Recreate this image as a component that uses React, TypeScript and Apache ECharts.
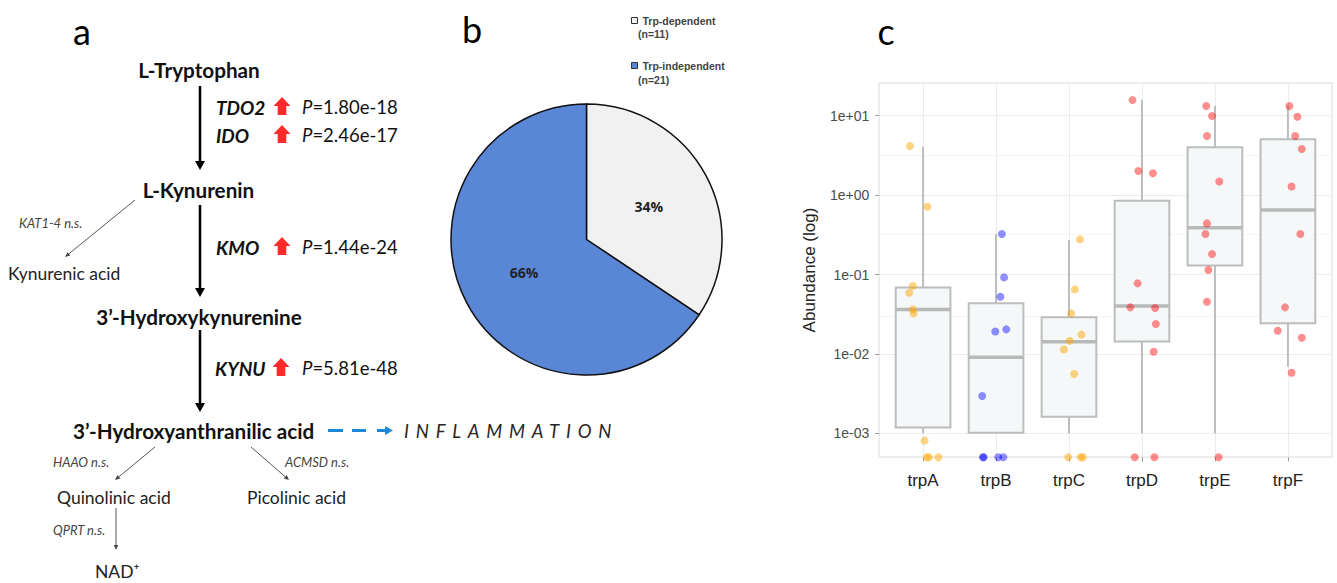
import React, { useEffect, useRef } from "react";
import * as echarts from "echarts";

// ---------- Panel c data (abundance, log scale) ----------
const genes = ["trpA", "trpB", "trpC", "trpD", "trpE", "trpF"];
const geneColors = [
  "rgba(255,165,0,0.62)",
  "rgba(0,0,255,0.55)",
  "rgba(255,165,0,0.62)",
  "rgba(255,0,0,0.55)",
  "rgba(255,0,0,0.55)",
  "rgba(255,0,0,0.55)",
];
const whiskerLow = [0.001, 0.001, 0.001, 0.001, 0.001, 0.0069];
const boxQ1 = [0.00119, 0.00102, 0.00162, 0.01438, 0.13, 0.0243];
const boxMedian = [0.0364, 0.00906, 0.01426, 0.0401, 0.389, 0.648];
const boxQ3 = [0.0689, 0.0434, 0.0289, 0.851, 3.99, 5.04];
const whiskerHigh = [4.07, 0.324, 0.272, 15.7, 13.2, 13.2];

const trpAValues = [4.15, 0.714, 0.0716, 0.059, 0.0364, 0.0324, 0.00081, 0, 0, 0];
const trpAJitter = [-0.18, 0.06, -0.14, -0.19, -0.14, -0.13, 0.02, 0.05, 0.08, 0.21];
const trpBValues = [0.324, 0.092, 0.0526, 0.0192, 0.0204, 0.00295, 0, 0, 0, 0];
const trpBJitter = [0.08, 0.11, 0.06, -0.01, 0.14, -0.19, -0.18, -0.17, 0.03, 0.1];
const trpCValues = [0.277, 0.065, 0.0324, 0.0175, 0.0147, 0.0114, 0.00558, 0, 0, 0];
const trpCJitter = [0.15, 0.08, 0.03, 0.17, 0.01, -0.07, 0.07, -0.01, 0.16, 0.19];
const trpDValues = [15.7, 2.01, 1.88, 0.0774, 0.0386, 0.0379, 0.0238, 0.01066, 0, 0];
const trpDJitter = [-0.13, -0.05, 0.15, -0.06, -0.16, 0.18, 0.19, 0.16, -0.1, 0.17];
const trpEValues = [13.2, 9.9, 5.55, 1.48, 0.44, 0.324, 0.181, 0.114, 0.0455, 0];
const trpEJitter = [-0.12, -0.04, -0.11, 0.06, -0.11, -0.13, -0.04, -0.09, -0.11, 0.05];
const trpFValues = [13.2, 9.7, 5.55, 3.8, 1.28, 0.324, 0.0386, 0.0196, 0.016, 0.0058];
const trpFJitter = [0.02, 0.13, 0.1, 0.19, 0.05, 0.17, -0.04, -0.14, 0.19, 0.05];

const pointValues = [trpAValues, trpBValues, trpCValues, trpDValues, trpEValues, trpFValues];
const pointJitter = [trpAJitter, trpBJitter, trpCJitter, trpDJitter, trpEJitter, trpFJitter];

const Y_MIN = 0.0005; // zero abundances sit on the panel floor
const Y_MAX = 26;
const minorGrid = [0.00316, 0.0316, 0.316, 3.16];

// ---------- Panel b data ----------
const pieNames = ["Trp-dependent", "Trp-independent"];
const pieCounts = [11, 21];
const pieColors = ["#F1F1F1", "#5A86D6"];

// ---------- Panel a content ----------
const metabolites = [
  "L-Tryptophan",
  "L-Kynurenin",
  "3\u2019-Hydroxykynurenine",
  "3\u2019-Hydroxyanthranilic acid",
];
const enzymes = ["TDO2", "IDO", "KMO", "KYNU"];
const enzymePValues = ["1.80e-18", "2.46e-17", "1.44e-24", "5.81e-48"];
const sideProducts = ["Kynurenic acid", "Quinolinic acid", "Picolinic acid", "NAD\u207A"];
const sideEnzymes = ["KAT1-4 n.s.", "HAAO n.s.", "ACMSD n.s.", "QPRT n.s."];

const FONT = "Lato";
const META_SIZE = 20.7;
const SMALL = 13;

function txt(text: string, x: number, y: number, o: any = {}) {
  return {
    type: "text",
    x,
    y,
    silent: true,
    style: {
      text,
      fontFamily: o.family ?? FONT,
      fontSize: o.size ?? 18.5,
      fontWeight: o.weight ?? "normal",
      fontStyle: o.fstyle ?? "normal",
      fill: o.color ?? "#111",
      align: o.align ?? "left",
      verticalAlign: "middle",
      rich: o.rich,
    },
  };
}

function pText(p: string, x: number, y: number) {
  return txt("{i|P}=" + p, x, y, {
    rich: { i: { fontStyle: "italic", fontFamily: FONT, fontSize: 18.5, fill: "#111" } },
  });
}

function downArrow(x: number, y1: number, y2: number) {
  return [
    { type: "line", silent: true, shape: { x1: x, y1, x2: x, y2: y2 - 6 }, style: { stroke: "#000", lineWidth: 2.5 } },
    { type: "polygon", silent: true, shape: { points: [[x - 5, y2 - 9], [x + 5, y2 - 9], [x, y2]] }, style: { fill: "#000" } },
  ];
}

function thinArrow(x1: number, y1: number, x2: number, y2: number) {
  const dx = x2 - x1, dy = y2 - y1, L = Math.hypot(dx, dy);
  const ux = dx / L, uy = dy / L;
  const hl = 5, hw = 2.2;
  const bx = x2 - ux * hl, by = y2 - uy * hl;
  return [
    { type: "line", silent: true, shape: { x1, y1, x2: bx, y2: by }, style: { stroke: "#444", lineWidth: 0.9 } },
    {
      type: "polygon",
      silent: true,
      shape: { points: [[x2, y2], [bx - uy * hw, by + ux * hw], [bx + uy * hw, by - ux * hw]] },
      style: { fill: "#444" },
    },
  ];
}

function upArrow(cx: number, cy: number) {
  return {
    type: "polygon",
    silent: true,
    shape: {
      points: [
        [cx, cy - 10], [cx + 8.5, cy - 1], [cx + 4.3, cy - 1], [cx + 4.3, cy + 8],
        [cx - 4.3, cy + 8], [cx - 4.3, cy - 1], [cx - 8.5, cy - 1],
      ],
    },
    style: { fill: "#FF2B2B" },
  };
}

function buildPathway() {
  const els: any[] = [];
  // panel letters
  els.push(txt("a", 82, 31, { size: 36, align: "center", color: "#000" }));
  els.push(txt("b", 472, 29, { size: 36, align: "center", color: "#000" }));
  els.push(txt("c", 886, 31, { size: 36, align: "center", color: "#000" }));

  // main chain
  els.push(txt(metabolites[0], 199, 70, { weight: "bold", size: META_SIZE, align: "center" }));
  els.push(...downArrow(200, 86, 170));
  els.push(txt(enzymes[0], 216, 107, { weight: "bold", fstyle: "italic", size: 19 }));
  els.push(upArrow(282, 107));
  els.push(pText(enzymePValues[0], 302, 107));
  els.push(txt(enzymes[1], 216, 135, { weight: "bold", fstyle: "italic", size: 19 }));
  els.push(upArrow(282, 135));
  els.push(pText(enzymePValues[1], 302, 135));

  els.push(txt(metabolites[1], 198.5, 190, { weight: "bold", size: META_SIZE, align: "center" }));
  els.push(...downArrow(200, 205, 297));
  els.push(...thinArrow(135, 200, 65, 257));
  els.push(txt(sideEnzymes[0], 19, 223, { fstyle: "italic", size: SMALL, color: "#444" }));
  els.push(txt(sideProducts[0], 8, 273, { size: 17.5, color: "#222" }));
  els.push(txt(enzymes[2], 216, 247, { weight: "bold", fstyle: "italic", size: 19 }));
  els.push(upArrow(282, 247));
  els.push(pText(enzymePValues[2], 302, 247));

  els.push(txt(metabolites[2], 199, 317, { weight: "bold", size: META_SIZE, align: "center" }));
  els.push(...downArrow(200, 330, 412));
  els.push(txt(enzymes[3], 215, 368, { weight: "bold", fstyle: "italic", size: 19 }));
  els.push(upArrow(281, 368));
  els.push(pText(enzymePValues[3], 302, 368));

  els.push(txt(metabolites[3], 73, 430.5, { weight: "bold", size: META_SIZE }));
  // blue dashed arrow to inflammation
  const blue = "#1E88D6";
  [[328, 343], [352, 366], [377, 386]].forEach(([a, b]) =>
    els.push({ type: "line", silent: true, shape: { x1: a, y1: 430.5, x2: b, y2: 430.5 }, style: { stroke: blue, lineWidth: 3 } })
  );
  els.push({ type: "polygon", silent: true, shape: { points: [[385, 426], [393, 430.5], [385, 435]] }, style: { fill: blue } });
  els.push(txt("INFLAMMATION", 404, 430.5, { fstyle: "italic", size: 18.5, color: "#262626", family: "Lato, InflamSpaced" }));

  els.push(...thinArrow(155, 447, 115, 480));
  els.push(txt(sideEnzymes[1], 53, 461.5, { fstyle: "italic", size: SMALL, color: "#444" }));
  els.push(...thinArrow(251, 447, 289, 480));
  els.push(txt(sideEnzymes[2], 285, 461.5, { fstyle: "italic", size: SMALL, color: "#444" }));
  els.push(txt(sideProducts[1], 57, 497.5, { size: 17.5, color: "#222" }));
  els.push(txt(sideProducts[2], 247, 497.5, { size: 17.5, color: "#222" }));
  els.push(...thinArrow(116, 508, 116, 550));
  els.push(txt(sideEnzymes[3], 53, 530, { fstyle: "italic", size: SMALL, color: "#444" }));
  els.push(txt(sideProducts[3], 95, 571, { size: 17.5, color: "#222" }));

  // legend sub-lines for panel b
  pieCounts.forEach((n, i) =>
    els.push(txt("(n=" + n + ")", 638, i === 0 ? 34 : 79.5, { family: "Liberation Sans", size: 10.5, weight: "bold", color: "#444" }))
  );
  return els;
}

function fmtLog(v: number) {
  const l = Math.log10(v);
  const e = Math.round(l);
  if (Math.abs(l - e) > 1e-6) return "";
  return "1e" + (e >= 0 ? "+" : "-") + String(Math.abs(e)).padStart(2, "0");
}

export default function App() {
  const ref = useRef<HTMLDivElement>(null);
  useEffect(() => {
    if (!ref.current) return;
    const chart = echarts.init(ref.current, undefined, { renderer: "svg" });
    const boxData = genes.map((g, k) => [k + 1, whiskerLow[k], boxQ1[k], boxMedian[k], boxQ3[k], whiskerHigh[k]]);
    const grey = "#BDBDBD";
    const option: any = {
      animation: false,
      textStyle: { fontFamily: "Liberation Sans" },
      grid: {
        left: 879.3,
        top: 82.7,
        width: 452.4,
        height: 374.6,
        show: true,
        borderColor: "#A9A9A9",
        borderWidth: 1,
        backgroundColor: "#fff",
      },
      xAxis: {
        type: "value",
        min: 0.4,
        max: 6.6,
        splitNumber: 6,
        axisLine: { show: false },
        axisTick: { show: true, length: 4, lineStyle: { color: "#999" } },
        axisLabel: {
          fontSize: 17,
          color: "#222",
          margin: 15,
          showMinLabel: false,
          showMaxLabel: false,
          formatter: (v: number) => {
            const r = Math.round(v);
            return Math.abs(v - r) < 1e-6 && r >= 1 && r <= genes.length ? genes[r - 1] : "";
          },
        },
        splitLine: { show: true, lineStyle: { color: "#ECECEC", width: 1 } },
      },
      yAxis: {
        type: "log",
        logBase: 10,
        min: Y_MIN,
        max: Y_MAX,
        axisLine: { show: false },
        axisTick: { show: true, length: 4, lineStyle: { color: "#999" } },
        axisLabel: { fontSize: 14, color: "#4D4D4D", margin: 10, showMinLabel: false, showMaxLabel: false, formatter: fmtLog },
        splitLine: { show: true, lineStyle: { color: "#ECECEC", width: 1 } },
        name: "Abundance (log)",
        nameLocation: "middle",
        nameGap: 61,
        nameTextStyle: { fontSize: 17, color: "#222" },
      },
      legend: {
        data: pieNames,
        orient: "vertical",
        left: 626,
        top: 10,
        itemWidth: 6,
        itemHeight: 6,
        itemGap: 34,
        icon: "rect",
        selectedMode: false,
        itemStyle: { borderColor: "#333", borderWidth: 1 },
        textStyle: { fontSize: 10.5, fontWeight: "bold", color: "#444", fontFamily: "Liberation Sans" },
      },
      graphic: buildPathway(),
      series: [
        {
          type: "custom",
          name: "box",
          z: 2,
          silent: true,
          data: boxData,
          encode: { x: 0, y: [1, 2, 3, 4, 5] },
          renderItem: (params: any, api: any) => {
            const i = api.value(0);
            const lo = api.coord([i, api.value(1)]);
            const q1 = api.coord([i, api.value(2)]);
            const md = api.coord([i, api.value(3)]);
            const q3 = api.coord([i, api.value(4)]);
            const hi = api.coord([i, api.value(5)]);
            const xa = api.coord([i - 0.375, api.value(3)])[0];
            const xb = api.coord([i + 0.375, api.value(3)])[0];
            return {
              type: "group",
              children: [
                { type: "line", shape: { x1: hi[0], y1: hi[1], x2: q3[0], y2: q3[1] }, style: { stroke: grey, lineWidth: 2 } },
                { type: "line", shape: { x1: q1[0], y1: q1[1], x2: lo[0], y2: lo[1] }, style: { stroke: grey, lineWidth: 2 } },
                {
                  type: "rect",
                  shape: { x: xa, y: q3[1], width: xb - xa, height: q1[1] - q3[1] },
                  style: { fill: "#F4F8F9", stroke: grey, lineWidth: 2 },
                },
                { type: "line", shape: { x1: xa, y1: md[1], x2: xb, y2: md[1] }, style: { stroke: "#B9B9B9", lineWidth: 3.5 } },
              ],
            };
          },
          markLine: {
            silent: true,
            z: 1,
            symbol: "none",
            label: { show: false },
            lineStyle: { color: "#F3F3F3", width: 0.8, type: "solid" },
            data: minorGrid.map((v) => ({ yAxis: v })),
          },
        },
        ...genes.map((g, k) => ({
          type: "scatter",
          name: g,
          z: 3,
          silent: true,
          clip: true,
          symbolSize: 8,
          itemStyle: { color: geneColors[k] },
          data: pointValues[k].map((v, j) => [k + 1 + pointJitter[k][j], v > 0 ? v : Y_MIN]),
        })),
        {
          type: "pie",
          name: "Trp",
          center: [586.5, 239.5],
          radius: 135.5,
          startAngle: 90,
          clockwise: true,
          silent: true,
          percentPrecision: 0,
          itemStyle: { borderColor: "#111", borderWidth: 1.5 },
          label: {
            show: true,
            position: "inner",
            formatter: "{d}%",
            fontSize: 14,
            fontWeight: "bold",
            color: "#222",
            fontFamily: "Open Sans",
          },
          labelLine: { show: false },
          emphasis: { disabled: true },
          data: pieNames.map((n, i) => ({ name: n, value: pieCounts[i], itemStyle: { color: pieColors[i] } })),
        },
      ],
    };
    chart.setOption(option);
    return () => chart.dispose();
  }, []);
  return (
    <>
      <style>{`text[style*="InflamSpaced"]{letter-spacing:6.8px;}`}</style>
      <div
        ref={ref}
        style={{ position: "fixed", left: 0, top: 0, width: 1337, height: 583, background: "#fff" }}
      />
    </>
  );
}
